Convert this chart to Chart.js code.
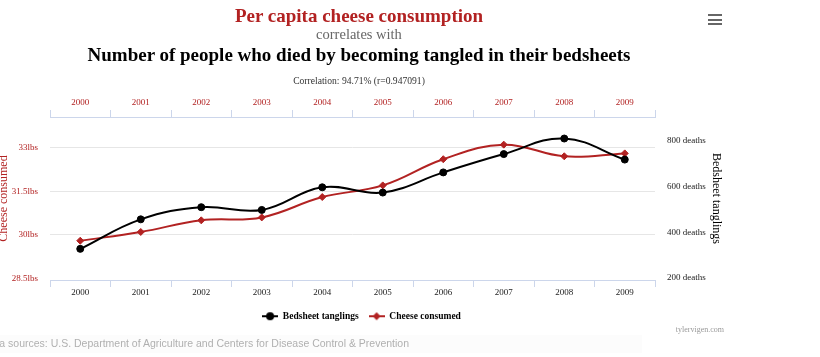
<!DOCTYPE html>
<html>
<head>
<meta charset="utf-8">
<script src="https://cdn.jsdelivr.net/npm/chart.js@4.4.0/dist/chart.umd.min.js"></script>
<style>
  html, body { margin: 0; padding: 0; background: #ffffff; }
  #wrap { position: relative; width: 820px; height: 357px; overflow: hidden; }
  #c { position: absolute; left: 0; top: 0; }
  .hd { position: absolute; left: 0; width: 718px; text-align: center; font-family: "Liberation Serif", "DejaVu Serif", serif; white-space: nowrap; }
  #t1 { top: 5px; font-size: 19px; line-height: 22px; font-weight: bold; color: #b22222; }
  #t2 { top: 26px; font-size: 14.5px; line-height: 17px; color: #666666; }
  #t3 { top: 43px; font-size: 19px; line-height: 24px; font-weight: bold; color: #000000; }
  #t4 { top: 75px; font-size: 9.6px; line-height: 12px; color: #333333; }
  #menu { position: absolute; left: 708px; top: 14px; width: 14px; }
  #menu div { height: 2px; background: #666666; margin-bottom: 2.5px; }
  #site { position: absolute; right: 96px; top: 325px; font-family: "Liberation Serif", serif; font-size: 8px; color: #999999; }
  #src { position: absolute; left: -17px; top: 337px; font-family: "Liberation Sans", Arial, sans-serif; font-size: 10.5px; color: #b0b0b0; white-space: nowrap; }
  #srcbg { position: absolute; left: 0; top: 335px; width: 642px; height: 18px; background: #fcfcfc; }
</style>
</head>
<body>
<div id="wrap">
  <div id="srcbg"></div>
  <canvas id="c" width="820" height="357"></canvas>
  <div class="hd" id="t1">Per capita cheese consumption</div>
  <div class="hd" id="t2">correlates with</div>
  <div class="hd" id="t3">Number of people who died by becoming tangled in their bedsheets</div>
  <div class="hd" id="t4">Correlation: 94.71% (r=0.947091)</div>
  <div id="menu"><div></div><div></div><div></div></div>
  <div id="site">tylervigen.com</div>
  <div id="src">Data sources: U.S. Department of Agriculture and Centers for Disease Control &amp; Prevention</div>
</div>
<script>
const years = ['2000','2001','2002','2003','2004','2005','2006','2007','2008','2009'];
const bedsheetDeaths = [327, 456, 509, 497, 596, 573, 661, 741, 809, 717];
const cheeseLbs = [29.8, 30.1, 30.5, 30.6, 31.3, 31.7, 32.6, 33.1, 32.7, 32.8];
const cheeseTicks = [28.5, 30, 31.5, 33];
const deathTicks = [200, 400, 600, 800];

const RED = '#b22222';
const AXIS = '#ccd6eb';
const SERIF = '"Liberation Serif", "DejaVu Serif", serif';

function legendIcon(kind, color) {
  const cv = document.createElement('canvas');
  cv.width = 16; cv.height = 10;
  const g = cv.getContext('2d');
  g.strokeStyle = color; g.lineWidth = 2;
  g.beginPath(); g.moveTo(0, 5); g.lineTo(16, 5); g.stroke();
  g.fillStyle = color;
  g.beginPath();
  if (kind === 'circle') { g.arc(8, 5, 4, 0, Math.PI * 2); }
  else { g.moveTo(8, 1); g.lineTo(12, 5); g.lineTo(8, 9); g.lineTo(4, 5); g.closePath(); }
  g.fill();
  return cv;
}
const icons = [legendIcon('circle', '#000000'), legendIcon('diamond', RED)];

const PAD_TOP = 90, PAD_BOTTOM = 26, PAD_RIGHT = 97;

new Chart(document.getElementById('c'), {
  type: 'line',
  data: {
    labels: years,
    datasets: [
      {
        label: 'Bedsheet tanglings',
        data: bedsheetDeaths,
        yAxisID: 'yDeaths',
        xAxisID: 'x',
        borderColor: '#000000',
        backgroundColor: '#000000',
        borderWidth: 2,
        tension: 0.4,
        pointStyle: 'circle',
        pointRadius: 3.5,
        pointBorderWidth: 1,
        pointBackgroundColor: '#000000',
        pointBorderColor: '#000000'
      },
      {
        label: 'Cheese consumed',
        data: cheeseLbs,
        yAxisID: 'yCheese',
        xAxisID: 'x',
        borderColor: RED,
        backgroundColor: RED,
        borderWidth: 2,
        tension: 0.4,
        pointStyle: 'rectRot',
        pointRadius: 3.5,
        pointBorderWidth: 1,
        pointBackgroundColor: RED,
        pointBorderColor: RED
      }
    ]
  },
  options: {
    responsive: false,
    devicePixelRatio: 1,
    animation: false,
    layout: { padding: { top: PAD_TOP, right: PAD_RIGHT, bottom: PAD_BOTTOM, left: 0 } },
    plugins: {
      tooltip: { enabled: false },
      legend: {
        display: true,
        position: 'bottom',
        labels: {
          usePointStyle: true,
          pointStyleWidth: 16,
          padding: 10,
          color: '#000000',
          font: { family: SERIF, size: 9.5, weight: 'bold' },
          generateLabels: (chart) => {
            const items = Chart.defaults.plugins.legend.labels.generateLabels(chart);
            items.forEach((it, i) => { it.pointStyle = icons[i]; });
            return items;
          }
        }
      }
    },
    scales: {
      x: {
        type: 'category',
        position: 'bottom',
        offset: true,
        grid: { offset: true, drawOnChartArea: false, drawTicks: true, tickLength: 7, color: AXIS },
        border: { display: true, color: AXIS },
        ticks: { color: '#222222', padding: 0, maxRotation: 0, font: { family: SERIF, size: 9 } },
        afterFit: (s) => {
          const legendH = s.chart.legend ? s.chart.legend.height : 30;
          s.height = (s.chart.height - PAD_BOTTOM - legendH) - 280;
        }
      },
      x2: {
        type: 'category',
        position: 'top',
        offset: true,
        grid: { offset: true, drawOnChartArea: false, drawTicks: true, tickLength: 7, color: AXIS },
        border: { display: true, color: AXIS },
        ticks: { color: RED, padding: 2, maxRotation: 0, font: { family: SERIF, size: 9 } },
        afterFit: (s) => { s.height = 117 - PAD_TOP; }
      },
      yCheese: {
        type: 'linear',
        position: 'left',
        min: 28.45,
        max: 34.05,
        grid: {
          color: (ctx) => (ctx.tick && ctx.tick.value === cheeseTicks[0]) ? 'rgba(0,0,0,0)' : '#e6e6e6',
          lineWidth: 1, drawTicks: false
        },
        border: { display: false },
        ticks: {
          color: RED, padding: 12,
          font: { family: SERIF, size: 9 },
          callback: (v) => v + 'lbs'
        },
        afterBuildTicks: (s) => { s.ticks = cheeseTicks.map(v => ({ value: v })); },
        title: {
          display: true, text: 'Cheese consumed', color: RED,
          font: { family: SERIF, size: 12 }, padding: { top: -3, bottom: 0 }
        },
        afterFit: (s) => { s.width = 50; }
      },
      yDeaths: {
        type: 'linear',
        position: 'right',
        min: 191,
        max: 903,
        grid: { display: false, drawOnChartArea: false, drawTicks: false },
        border: { display: false },
        ticks: {
          color: '#222222', padding: 12,
          font: { family: SERIF, size: 9 },
          callback: (v) => v + ' deaths'
        },
        afterBuildTicks: (s) => { s.ticks = deathTicks.map(v => ({ value: v })); },
        title: {
          display: true, text: 'Bedsheet tanglings', color: '#000000',
          font: { family: SERIF, size: 12 }, padding: { top: 0, bottom: 0 }
        },
        afterFit: (s) => { s.width = 68; }
      }
    }
  }
});
</script>
</body>
</html>
